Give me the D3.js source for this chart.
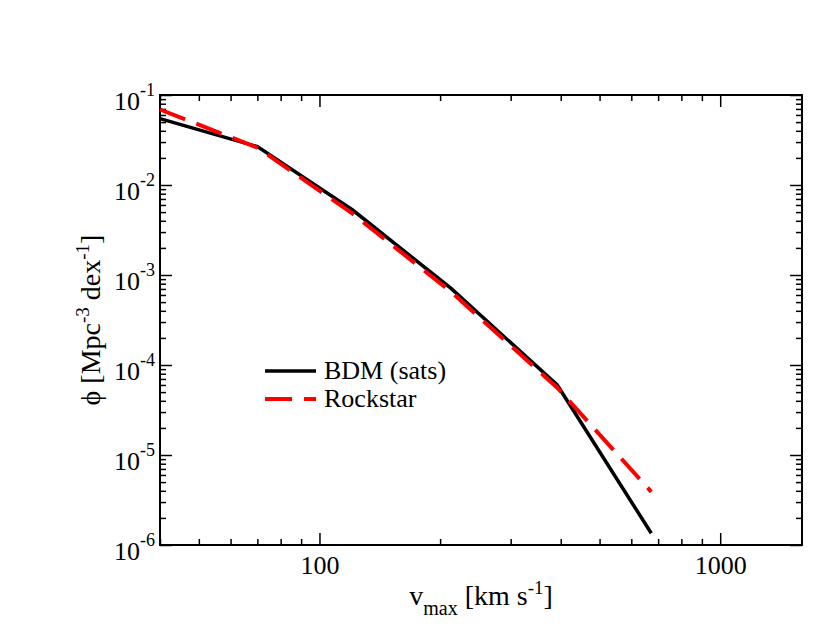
<!DOCTYPE html>
<meta charset="utf-8">
<style>
body { margin: 0; background: #fff; }
svg text { font-family: "Liberation Serif", "Times New Roman", serif; fill: #000; }
.axis path { display: none; }
.axis line { stroke: #000; stroke-width: 1.5; }
</style>
<body>
<script src="https://cdn.jsdelivr.net/npm/d3@7"></script>
<script>

// data
var vmaxBdm = [40, 70, 121, 213, 392, 673];
var phiBdm  = [0.0546, 0.0267, 5.27e-3, 7.1e-4, 6.0e-5, 1.35e-6];
var vmaxRock = [40, 70, 121, 213, 392, 673];
var phiRock  = [0.069, 0.026, 4.8e-3, 6.5e-4, 5.6e-5, 3.9e-6];
var seriesNames = ["BDM (sats)", "Rockstar"];
var xMajor = [100, 1000];
var yMajorExp = [-1, -2, -3, -4, -5, -6];

var margin = {top: 95, right: 28, bottom: 97, left: 160},
    width = 830 - margin.left - margin.right,
    height = 642 - margin.top - margin.bottom;

var x = d3.scaleLog().domain([40, 1600]).range([0, width]);
var y = d3.scaleLog().domain([1e-6, 1e-1]).range([height, 0]);

// minor ticks
var xMinor = [];
[10, 100, 1000].forEach(function(d) {
  for (var k = 2; k < 10; k++) {
    var v = d * k;
    if (v >= 40 && v <= 1600 && xMajor.indexOf(v) < 0) xMinor.push(v);
  }
});
var yMinor = [];
yMajorExp.forEach(function(e) {
  for (var k = 2; k < 10; k++) {
    var v = k * Math.pow(10, e);
    if (v <= 1e-1) yMinor.push(v);
  }
});

var svg = d3.select("body").append("svg")
    .attr("width", 830)
    .attr("height", 642);
var g = svg.append("g")
    .attr("transform", "translate(" + margin.left + "," + margin.top + ")");

// ticks on all four sides, pointing in
function addX(ticks, size, labels, top) {
  var ax = (top ? d3.axisTop(x) : d3.axisBottom(x))
      .tickValues(ticks).tickSize(-size).tickPadding(7)
      .tickFormat(labels ? d3.format("d") : "");
  var a = g.append("g").attr("class", "axis")
      .attr("transform", "translate(0," + (top ? 0 : height) + ")")
      .call(ax);
  a.selectAll("text").attr("font-size", 26).attr("dy", "0.85em");
}
function addY(ticks, size, right) {
  var ax = (right ? d3.axisRight(y) : d3.axisLeft(y))
      .tickValues(ticks).tickSize(-size).tickFormat("");
  g.append("g").attr("class", "axis")
      .attr("transform", "translate(" + (right ? width : 0) + ",0)")
      .call(ax);
}
addX(xMajor, 12, true, false);
addX(xMinor, 6, false, false);
addX(xMajor, 12, false, true);
addX(xMinor, 6, false, true);
addY(yMajorExp.map(function(e) { return Math.pow(10, e); }), 12, false);
addY(yMinor, 6, false);
addY(yMajorExp.map(function(e) { return Math.pow(10, e); }), 12, true);
addY(yMinor, 6, true);

// y tick labels 10^n
var ylab = g.append("g").selectAll("text")
    .data(yMajorExp)
  .enter().append("text")
    .attr("x", -5)
    .attr("y", function(d) { return y(Math.pow(10, d)) + 15; })
    .attr("text-anchor", "end")
    .attr("font-size", 26);
ylab.append("tspan").text("10");
ylab.append("tspan").attr("dy", -14).attr("font-size", 18).text(function(d) { return d; });

// frame
g.append("rect")
    .attr("width", width).attr("height", height)
    .attr("fill", "none").attr("stroke", "#000").attr("stroke-width", 2);

// lines
var line = d3.line()
    .x(function(d) { return x(d[0]); })
    .y(function(d) { return y(d[1]); });

g.append("path")
    .datum(d3.zip(vmaxBdm, phiBdm))
    .attr("fill", "none").attr("stroke", "#000").attr("stroke-width", 3.5)
    .attr("d", line);

g.append("path")
    .datum(d3.zip(vmaxRock, phiRock))
    .attr("fill", "none").attr("stroke", "#ff0000").attr("stroke-width", 4)
    .attr("stroke-dasharray", "27,12")
    .attr("d", line);

// legend
var legend = svg.append("g").selectAll("g")
    .data(seriesNames)
  .enter().append("g")
    .attr("transform", function(d, i) { return "translate(265," + (371 + i * 28) + ")"; });
legend.append("line")
    .attr("x1", 0).attr("x2", 51)
    .attr("stroke", function(d, i) { return i ? "#ff0000" : "#000"; })
    .attr("stroke-width", function(d, i) { return i ? 4 : 3.5; })
    .attr("stroke-dasharray", function(d, i) { return i ? "27,12" : null; });
legend.append("text")
    .attr("x", 59).attr("y", 8)
    .attr("font-size", 26)
    .text(function(d) { return d; });

// axis titles
var xt = svg.append("text")
    .attr("x", margin.left + width / 2).attr("y", 605)
    .attr("text-anchor", "middle").attr("font-size", 28);
xt.append("tspan").text("v");
xt.append("tspan").attr("dy", 10).attr("font-size", 20).text("max");
xt.append("tspan").attr("dy", -10).text(" [km s");
xt.append("tspan").attr("dy", -11).attr("font-size", 19).text("-1");
xt.append("tspan").attr("dy", 11).text("]");

var yt = svg.append("text")
    .attr("transform", "translate(100," + (margin.top + height / 2) + ") rotate(-90)")
    .attr("text-anchor", "middle").attr("font-size", 28);
yt.append("tspan").text("\u03D5 [Mpc");
yt.append("tspan").attr("dy", -11).attr("font-size", 19).text("-3");
yt.append("tspan").attr("dy", 11).text(" dex");
yt.append("tspan").attr("dy", -11).attr("font-size", 19).text("-1");
yt.append("tspan").attr("dy", 11).text("]");

</script>
</body>
